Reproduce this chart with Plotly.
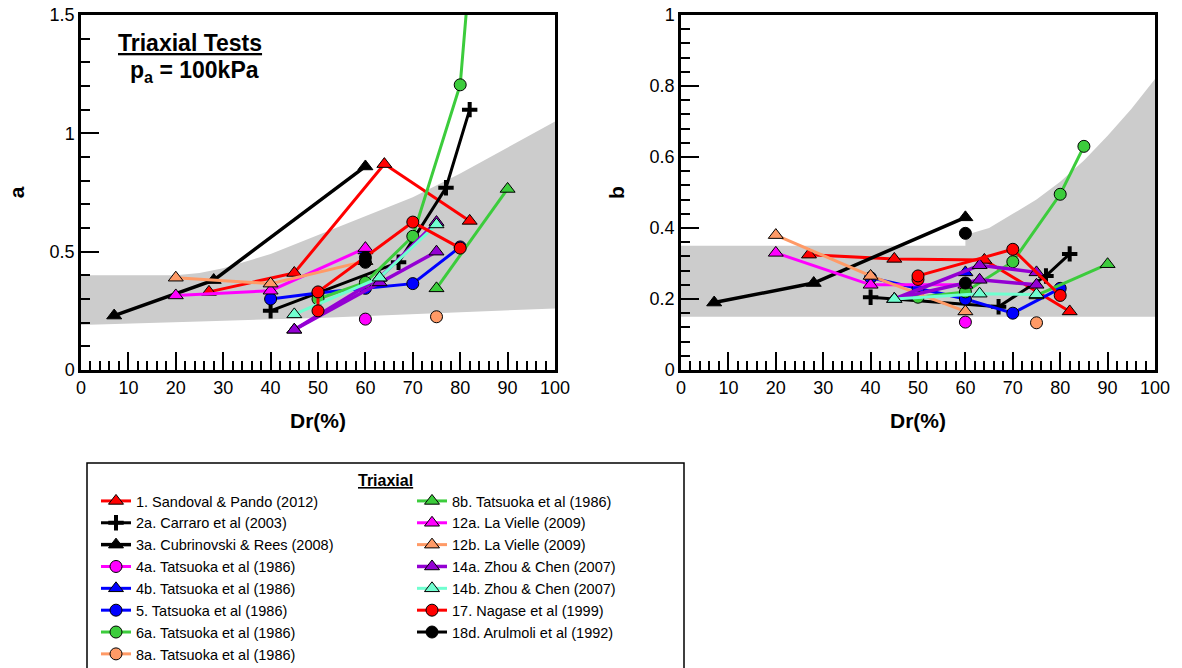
import plotly.graph_objects as go

FONT = "Arial, Liberation Sans, Helvetica, sans-serif"

# ---------------- data ----------------
# grey band, parameter a
band_a_x = [0, 20, 25, 30, 40, 50, 60, 70, 80, 90, 100]
band_a_upper = [0.40, 0.40, 0.41, 0.43, 0.49, 0.57, 0.65, 0.73, 0.83, 0.94, 1.05]
band_a_lower_x = [0, 25, 50, 75, 100]
band_a_lower = [0.19, 0.205, 0.22, 0.24, 0.26]

# grey band, parameter b
band_b_x = [0, 60, 60, 65, 70, 75, 80, 85, 90, 95, 100]
band_b_upper = [0.35, 0.35, 0.38, 0.40, 0.44, 0.48, 0.53, 0.59, 0.66, 0.735, 0.82]
band_b_lower_x = [0, 100]
band_b_lower = [0.15, 0.15]

names = [
    "1. Sandoval & Pando (2012)",
    "2a. Carraro et al (2003)",
    "3a. Cubrinovski & Rees (2008)",
    "4a. Tatsuoka et al (1986)",
    "4b. Tatsuoka et al (1986)",
    "5. Tatsuoka et al (1986)",
    "6a. Tatsuoka et al (1986)",
    "8a. Tatsuoka et al (1986)",
    "8b. Tatsuoka et al (1986)",
    "12a. La Vielle (2009)",
    "12b. La Vielle (2009)",
    "14a. Zhou & Chen (2007)",
    "14b. Zhou & Chen (2007)",
    "17. Nagase et al (1999)",
    "18d. Arulmoli et al (1992)",
]

dr_1 = [27, 45, 64, 82]
a_1 = [0.33, 0.41, 0.87, 0.63]
b_1 = [0.325, 0.313, 0.31, 0.165]

dr_2a = [40, 67, 77, 82]
a_2a = [0.25, 0.455, 0.77, 1.10]
b_2a = [0.205, 0.178, 0.265, 0.327]

dr_3a = [7, 28, 60]
a_3a = [0.23, 0.38, 0.86]
b_3a = [0.19, 0.245, 0.43]

dr_4a = [60]
a_4a = [0.215]
b_4a = [0.135]

dr_4b = [60]
a_4b = [0.505]
b_4b = [0.275]

dr_5 = [40, 50, 60, 70, 80]
a_5 = [0.30, 0.325, 0.345, 0.365, 0.52]
b_5 = [0.26, 0.23, 0.20, 0.16, 0.23]

dr_6a = [50, 60, 70, 80, 85]
a_6a = [0.30, 0.37, 0.565, 1.205, 2.40]
b_6a = [0.205, 0.22, 0.305, 0.495, 0.63]

dr_8a = [75]
a_8a = [0.225]
b_8a = [0.133]

dr_8b = [75, 90]
a_8b = [0.345, 0.765]
b_8b = [0.21, 0.298]

dr_12a = [20, 40, 60]
a_12a = [0.315, 0.335, 0.515]
b_12a = [0.33, 0.24, 0.24]

dr_12b = [20, 40, 60]
a_12b = [0.39, 0.365, 0.46]
b_12b = [0.38, 0.265, 0.165]

dr_14a = [45, 63, 75, None, 45, 63, 75]
a_14a = [0.17, 0.39, 0.625, None, 0.17, 0.37, 0.50]
b_14a = [0.20, 0.295, 0.275, None, 0.20, 0.254, 0.24]

dr_14b = [45, 63, 75]
a_14b = [0.235, 0.39, 0.615]
b_14b = [0.20, 0.215, 0.213]

dr_17 = [50, 50, 70, 80]
a_17 = [0.25, 0.33, 0.625, 0.515]
b_17 = [0.255, 0.265, 0.34, 0.21]

dr_18d = [60, None, 60]
a_18d = [0.475, None, 0.455]
b_18d = [0.385, None, 0.245]

dr_all = [dr_1, dr_2a, dr_3a, dr_4a, dr_4b, dr_5, dr_6a, dr_8a, dr_8b,
          dr_12a, dr_12b, dr_14a, dr_14b, dr_17, dr_18d]
a_all = [a_1, a_2a, a_3a, a_4a, a_4b, a_5, a_6a, a_8a, a_8b,
         a_12a, a_12b, a_14a, a_14b, a_17, a_18d]
b_all = [b_1, b_2a, b_3a, b_4a, b_4b, b_5, b_6a, b_8a, b_8b,
         b_12a, b_12b, b_14a, b_14b, b_17, b_18d]

# ---------------- styles ----------------
RED = "#ff0000"
BLACK = "#000000"
MAGENTA = "#ff00ff"
BLUE = "#0000ff"
GREEN = "#3ccc3c"
SALMON = "#ff9a66"
PURPLE = "#9400d3"
AQUA = "#70ffd0"

line_colors = [RED, BLACK, BLACK, MAGENTA, BLUE, BLUE, GREEN, SALMON, GREEN,
               MAGENTA, SALMON, PURPLE, AQUA, RED, BLACK]
symbols = ["triangle-up", "cross-thin", "triangle-up", "circle", "triangle-up",
           "circle", "circle", "circle", "triangle-up", "triangle-up",
           "triangle-up", "triangle-up", "triangle-up", "circle", "circle"]
line_widths = [3, 3, 3.5, 3, 3, 3, 3, 3, 3, 3, 3, 3.5, 3, 3, 3]
legend_ids = ["legend"] * 8 + ["legend2"] * 7

fig = go.Figure()

fig.add_trace(go.Scatter(
    x=band_a_x + band_a_lower_x[::-1], y=band_a_upper + band_a_lower[::-1],
    fill="toself", fillcolor="#cccccc", mode="lines", line=dict(width=0),
    showlegend=False, hoverinfo="skip", xaxis="x", yaxis="y"))
fig.add_trace(go.Scatter(
    x=band_b_x + band_b_lower_x[::-1], y=band_b_upper + band_b_lower[::-1],
    fill="toself", fillcolor="#cccccc", mode="lines", line=dict(width=0),
    showlegend=False, hoverinfo="skip", xaxis="x2", yaxis="y2"))

for i, name in enumerate(names):
    sym = symbols[i]
    if sym == "cross-thin":
        marker = dict(symbol=sym, size=11, color=BLACK, line=dict(color=BLACK, width=4))
    elif sym == "circle":
        marker = dict(symbol=sym, size=12, color=line_colors[i], line=dict(color=BLACK, width=1))
    else:
        marker = dict(symbol=sym, size=13, color=line_colors[i], line=dict(color=BLACK, width=1))
    for k, (vals, xa, ya) in enumerate([(a_all[i], "x", "y"), (b_all[i], "x2", "y2")]):
        fig.add_trace(go.Scatter(
            x=dr_all[i], y=vals, mode="lines+markers", name=name,
            line=dict(color=line_colors[i], width=line_widths[i]),
            marker=marker, legend=legend_ids[i], legendgroup=name,
            showlegend=(k == 0), xaxis=xa, yaxis=ya, connectgaps=False))

def px_x(p):
    return (p - 81) / 1074.0

def px_y(p):
    return 1 - (p - 15) / 355.0

axis_common = dict(
    showline=True, linecolor="black", linewidth=2.5, mirror=True,
    ticks="inside", ticklen=18, tickwidth=2, tickcolor="black",
    showgrid=False, zeroline=False, tickfont=dict(size=18, family=FONT, color="black"),
)

xaxis_common = dict(axis_common, range=[0, 100], dtick=10, tick0=0,
                    minor=dict(ticks="inside", ticklen=9, tickwidth=2, tickcolor="black", dtick=2, showgrid=False),
                    title=dict(text="<b>Dr(%)</b>", font=dict(size=21, family=FONT), standoff=16))

legend_common = dict(xanchor="left", yanchor="top", bgcolor="rgba(0,0,0,0)", borderwidth=0,
                     font=dict(size=14.5, family=FONT, color="black"), tracegroupgap=0,
                     itemwidth=30, orientation="v", xref="paper", yref="paper")

fig.update_layout(
    width=1182, height=668,
    margin=dict(l=81, r=27, t=15, b=298, autoexpand=False),
    plot_bgcolor="white", paper_bgcolor="white",
    font=dict(family=FONT, size=16, color="black"),
    xaxis=dict(xaxis_common, domain=[0, px_x(555)], anchor="y"),
    yaxis=dict(axis_common, domain=[0, 1], range=[0, 1.5], dtick=0.5, tick0=0, anchor="x",
               minor=dict(ticks="inside", ticklen=9, tickwidth=2, tickcolor="black", dtick=0.1, showgrid=False),
               title=dict(text="<b>a</b>", font=dict(size=21, family=FONT), standoff=20)),
    xaxis2=dict(xaxis_common, domain=[px_x(681), 1], anchor="y2"),
    yaxis2=dict(axis_common, domain=[0, 1], range=[0, 1], dtick=0.2, tick0=0, anchor="x2",
                minor=dict(ticks="inside", ticklen=9, tickwidth=2, tickcolor="black", dtick=0.04, showgrid=False),
                title=dict(text="<b>b</b>", font=dict(size=21, family=FONT), standoff=20)),
    legend=dict(legend_common, x=px_x(96), y=px_y(485)),
    legend2=dict(legend_common, x=px_x(412), y=px_y(485)),
    showlegend=True,
)

# legend frame and title
fig.add_shape(type="rect", xref="paper", yref="paper",
              x0=px_x(87), x1=px_x(684), y0=px_y(463), y1=px_y(720),
              line=dict(color="black", width=1.5), fillcolor="rgba(0,0,0,0)", layer="above")
fig.add_annotation(xref="paper", yref="paper", x=px_x(385), y=px_y(480),
                   text="<b><u>Triaxial</u></b>", showarrow=False,
                   font=dict(size=16, family=FONT, color="black"), xanchor="center", yanchor="middle")

# chart label
fig.add_annotation(xref="paper", yref="paper", x=px_x(190), y=px_y(43),
                   text="<b><u>Triaxial Tests</u></b>", showarrow=False,
                   font=dict(size=23, family=FONT, color="black"), xanchor="center", yanchor="middle")
fig.add_annotation(xref="paper", yref="paper", x=px_x(194), y=px_y(71),
                   text="<b>p<sub>a</sub> = 100kPa</b>", showarrow=False,
                   font=dict(size=23, family=FONT, color="black"), xanchor="center", yanchor="middle")

fig.write_html("out.html")
